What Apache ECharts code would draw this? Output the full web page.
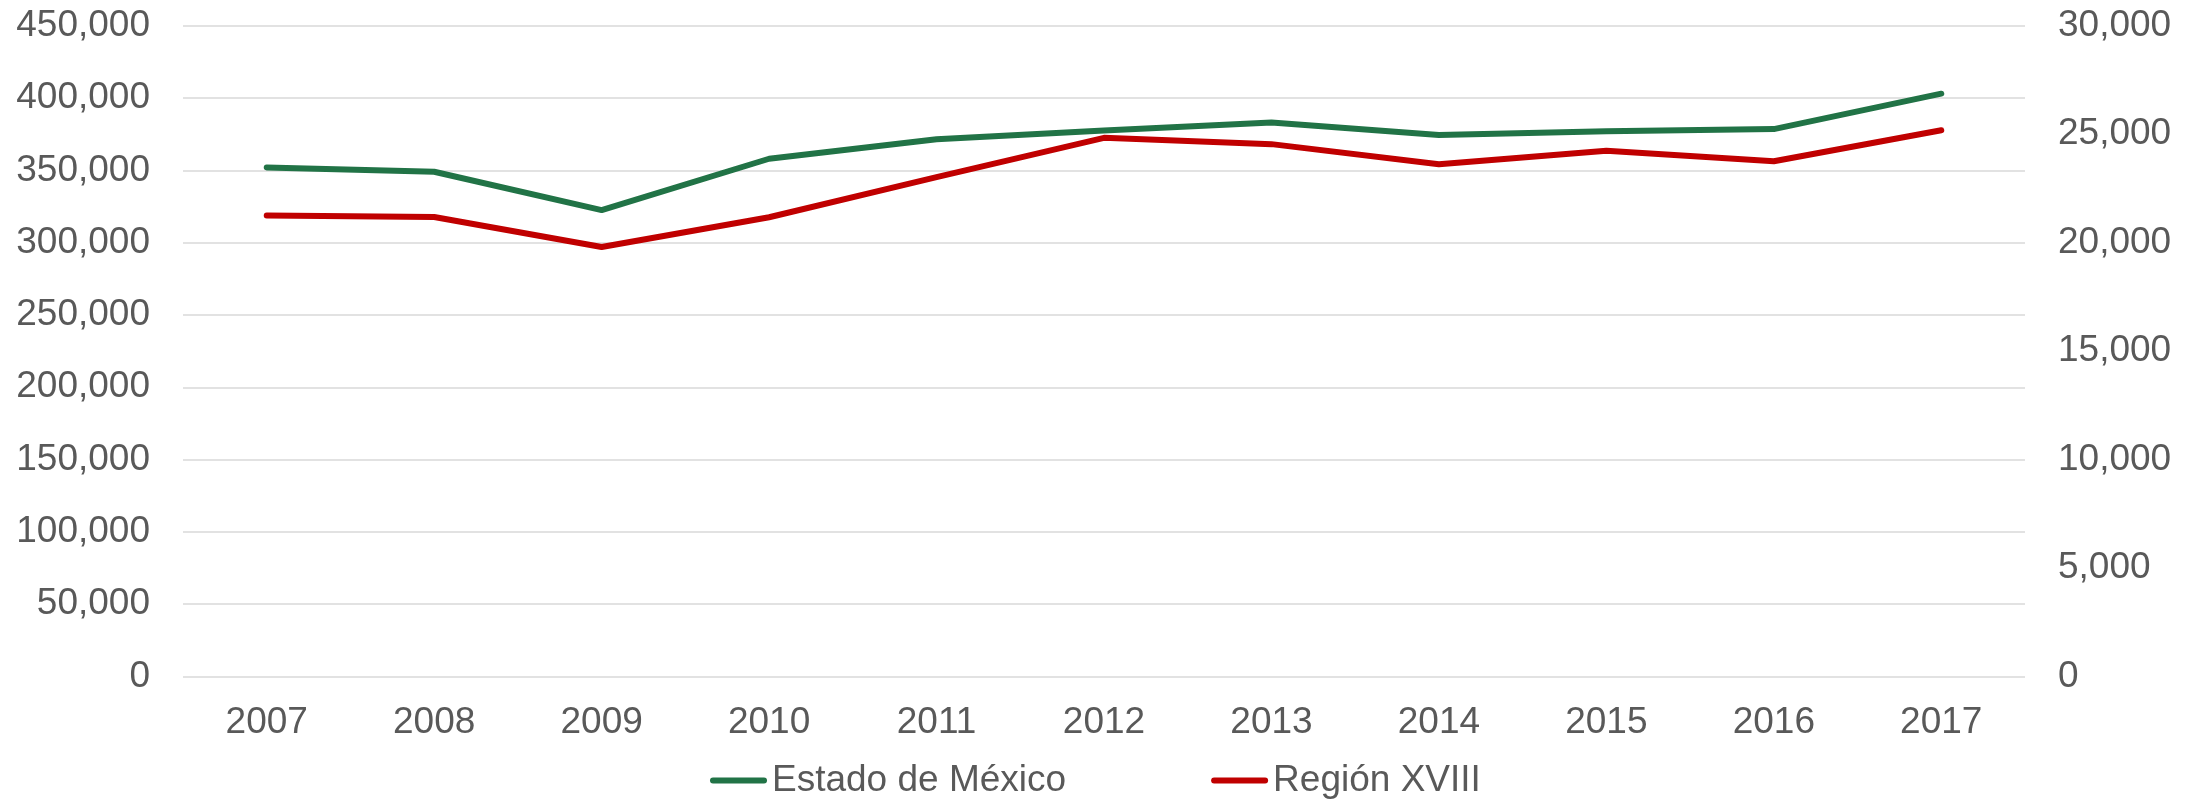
<!DOCTYPE html>
<html><head><meta charset="utf-8">
<script src="https://cdn.jsdelivr.net/npm/echarts@6/dist/echarts.min.js"></script>
<style>html,body{margin:0;padding:0;background:#fff}#c{width:2200px;height:801px}</style>
</head><body><div id="c"></div>
<script>
const years = ['2007','2008','2009','2010','2011','2012','2013','2014','2015','2016','2017'];
const estadoMexico = [352000, 349000, 322500, 358000, 371500, 377500, 383000, 374500, 377000, 378500, 403000];
const regionXVIII = [21250, 21180, 19800, 21170, 23020, 24830, 24540, 23610, 24240, 23750, 25180];
const seriesNames = ['Estado de México', 'Región XVIII'];

const font = 'Liberation Sans, Arial, sans-serif';
const fmt = v => v.toLocaleString('en-US');
const legendIcon = 'path://M3,0 L54,0 A3,3 0 0 1 54,6 L3,6 A3,3 0 0 1 3,0 Z';
const chart = echarts.init(document.getElementById('c'));
chart.setOption({
  animation: false,
  backgroundColor: '#fff',
  grid: {left: 183, right: 175, top: 25.7, bottom: 124.5, containLabel: false},
  legend: {
    left: 705, top: 757,
    itemWidth: 57, itemHeight: 6, itemGap: 145,
    icon: legendIcon,
    textStyle: {fontFamily: font, fontSize: 37, color: '#595959'},
    data: seriesNames
  },
  xAxis: {
    type: 'category', data: years, boundaryGap: true,
    axisLine: {show: false}, axisTick: {show: false},
    axisLabel: {fontFamily: font, fontSize: 37, color: '#595959', margin: 28}
  },
  yAxis: [
    {type: 'value', min: 0, max: 450000, interval: 50000,
     axisLine: {show: false}, axisTick: {show: false},
     splitLine: {lineStyle: {color: '#D9D9D9', width: 1.5}},
     axisLabel: {fontFamily: font, fontSize: 37, color: '#595959', margin: 33, formatter: fmt}},
    {type: 'value', min: 0, max: 30000, interval: 5000,
     axisLine: {show: false}, axisTick: {show: false}, splitLine: {show: false},
     axisLabel: {fontFamily: font, fontSize: 37, color: '#595959', margin: 33, formatter: fmt}}
  ],
  series: [
    {name: seriesNames[0], type: 'line', yAxisIndex: 0, data: estadoMexico, symbol: 'none',
     itemStyle: {color: '#217346'}, lineStyle: {color: '#217346', width: 6, cap: 'round', join: 'round'}},
    {name: seriesNames[1], type: 'line', yAxisIndex: 1, data: regionXVIII, symbol: 'none',
     itemStyle: {color: '#C00000'}, lineStyle: {color: '#C00000', width: 6, cap: 'round', join: 'round'}}
  ]
});
</script></body></html>
